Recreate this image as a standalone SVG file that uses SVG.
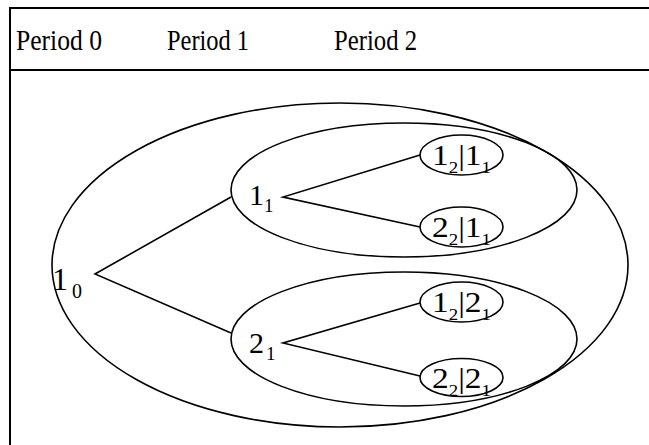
<svg xmlns="http://www.w3.org/2000/svg" width="649" height="445" viewBox="0 0 649 445">
<style>
.frame{fill:none;stroke:#000;stroke-width:2}
.ell{fill:none;stroke:#000;stroke-width:1.6}
.sm{fill:#fff;stroke:#000;stroke-width:1.6}
.edge{stroke:#000;stroke-width:1.6;fill:none}
</style>
<rect width="649" height="445" fill="#fff"/>
<g id="frame">
<path class="frame" d="M10,445 V8 H649 M10,70 H649"/>
<g font-family="Liberation Serif, serif" font-size="30">
<text x="16" y="50" textLength="86" lengthAdjust="spacingAndGlyphs">Period 0</text>
<text x="167" y="50" textLength="82" lengthAdjust="spacingAndGlyphs">Period 1</text>
<text x="334" y="50" textLength="83" lengthAdjust="spacingAndGlyphs">Period 2</text>
</g>
</g>
<g id="outer-set"><ellipse class="ell" cx="340" cy="265" rx="288" ry="162"/></g>
<g id="set-1-1"><ellipse class="ell" cx="404" cy="190" rx="173" ry="67"/></g>
<g id="set-2-1"><ellipse class="ell" cx="404" cy="339" rx="173" ry="67"/></g>
<g id="connectors">
<path class="edge" d="M231,197 L95,274 L231,333"/>
<path class="edge" d="M420,155 L283,197 L420,227"/>
<path class="edge" d="M420,303 L283,343 L420,376"/>
</g>
<g font-family="Liberation Serif, serif" font-size="30">
<g id="node-1-0">
<text x="52" y="290" font-size="32">1<tspan font-size="20" x="72" dy="8">0</tspan></text>
</g>
<g id="node-1-1">
<text x="249" y="205">1<tspan font-size="19" dy="7">1</tspan></text>
</g>
<g id="node-2-1">
<text x="249" y="353">2<tspan font-size="19" x="266" dy="7">1</tspan></text>
</g>
<g id="node-1-2-1-1">
<ellipse class="sm" cx="461.5" cy="155" rx="41.5" ry="20"/>
<text x="432" y="165" textLength="59" lengthAdjust="spacingAndGlyphs">1<tspan font-size="17" dy="8">2</tspan><tspan dy="-8">|1</tspan><tspan font-size="17" dy="8">1</tspan></text>
</g>
<g id="node-2-2-1-1">
<ellipse class="sm" cx="461.5" cy="227" rx="41.5" ry="20"/>
<text x="432" y="237" textLength="59" lengthAdjust="spacingAndGlyphs">2<tspan font-size="17" dy="8">2</tspan><tspan dy="-8">|1</tspan><tspan font-size="17" dy="8">1</tspan></text>
</g>
<g id="node-1-2-2-1">
<ellipse class="sm" cx="461.5" cy="302" rx="41.5" ry="20"/>
<text x="432" y="312" textLength="59" lengthAdjust="spacingAndGlyphs">1<tspan font-size="17" dy="8">2</tspan><tspan dy="-8">|2</tspan><tspan font-size="17" dy="8">1</tspan></text>
</g>
<g id="node-2-2-2-1">
<ellipse class="sm" cx="461.5" cy="377.5" rx="41.5" ry="19"/>
<text x="432" y="388" textLength="59" lengthAdjust="spacingAndGlyphs">2<tspan font-size="17" dy="8">2</tspan><tspan dy="-8">|2</tspan><tspan font-size="17" dy="8">1</tspan></text>
</g>
</g>
</svg>
